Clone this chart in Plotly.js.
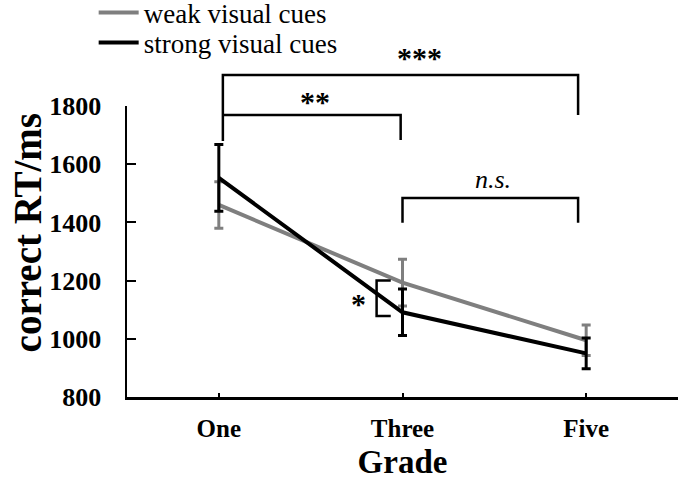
<!DOCTYPE html>
<html>
<head>
<meta charset="utf-8">
<script src="https://cdn.plot.ly/plotly-3.0.1.min.js"></script>
<style>
  html, body { margin: 0; padding: 0; background: #fff; }
  #chart { width: 683px; height: 480px; }
</style>
</head>
<body>
<div id="chart"></div>
<script>
// Grades on the x axis
const grades = ['One', 'Three', 'Five'];

// Mean correct reaction time (ms) and error bar half-lengths
const weakRT = [1460, 1193, 995];
const weakErr = [80, 80, 52];
const strongRT = [1553, 1091, 950];
const strongErr = [115, 80, 53];

const yTicks = [800, 1000, 1200, 1400, 1600, 1800];

const SERIF = '"Liberation Serif", "Times New Roman", serif';
const GRAY = '#7f7f7f';
const BLACK = '#000000';

// category-boundary positions for the outward ticks on the secondary axis
const boundaries = grades.map((_, i) => i - 0.5).concat(grades.length - 0.5);

const traces = [
  {
    x: grades, y: weakRT, name: 'weak visual cues', type: 'scatter', mode: 'lines',
    legend: 'legend',
    line: { color: GRAY, width: 4 },
    error_y: { type: 'data', array: weakErr, visible: true, color: GRAY, thickness: 3, width: 4.5 }
  },
  {
    x: grades, y: strongRT, name: 'strong visual cues', type: 'scatter', mode: 'lines',
    legend: 'legend2',
    line: { color: BLACK, width: 4 },
    error_y: { type: 'data', array: strongErr, visible: true, color: BLACK, thickness: 3, width: 4.5 }
  }
];

const bracketLine = { color: BLACK, width: 2.5 };

function legendAt(yPaper) {
  return {
    x: -0.0605, xanchor: 'left', y: yPaper, yanchor: 'middle',
    font: { family: SERIF, size: 27, color: BLACK },
    itemwidth: 40,
    bgcolor: 'rgba(0,0,0,0)', borderwidth: 0
  };
}

const layout = {
  width: 683, height: 480,
  margin: { l: 127, r: 5, t: 106, b: 83, autoexpand: false },
  paper_bgcolor: '#fff', plot_bgcolor: '#fff',
  showlegend: true,
  legend: legendAt(1.320),
  legend2: legendAt(1.217),
  xaxis: {
    type: 'category', range: [-0.5, 2.5],
    showline: true, linecolor: BLACK, linewidth: 2.5,
    ticks: 'inside', ticklen: 4, tickwidth: 2, tickcolor: BLACK,
    tickfont: { family: SERIF, size: 25, color: BLACK, weight: 'bold' },
    ticklabelstandoff: 7,
    showgrid: false, zeroline: false,
    title: { text: 'Grade', font: { family: SERIF, size: 33, color: BLACK, weight: 'bold' }, standoff: 15 }
  },
  xaxis2: {
    overlaying: 'x', anchor: 'y', side: 'bottom', type: 'linear', range: [-0.5, 2.5],
    tickmode: 'array', tickvals: boundaries, showticklabels: false,
    ticks: 'outside', ticklen: 7, tickwidth: 2, tickcolor: BLACK,
    showline: false, showgrid: false, zeroline: false
  },
  yaxis: {
    range: [800, 1800], tickmode: 'array', tickvals: yTicks,
    showline: true, linecolor: BLACK, linewidth: 2.5,
    ticks: 'inside', ticklen: 9, tickwidth: 2, tickcolor: BLACK,
    tickfont: { family: SERIF, size: 26, color: BLACK, weight: 'bold' },
    ticklabelstandoff: 18,
    showgrid: false, zeroline: false
  },
  shapes: [
    // One vs Five
    { type: 'path', xref: 'x', yref: 'paper', line: bracketLine,
      path: 'M 0.022,0.880 L 0.022,1.1065 L 1.956,1.1065 L 1.956,0.969' },
    // One vs Three
    { type: 'path', xref: 'x', yref: 'y', line: bracketLine,
      path: 'M 0.022,1769 L 0.99,1769 L 0.99,1683' },
    // Three vs Five
    { type: 'path', xref: 'x', yref: 'y', line: bracketLine,
      path: 'M 1,1399 L 1,1484 L 1.956,1484 L 1.956,1399' },
    // weak vs strong at grade Three
    { type: 'path', xref: 'x', yref: 'y', line: bracketLine,
      path: 'M 0.936,1200 L 0.859,1200 L 0.859,1078 L 0.936,1078' }
  ],
  annotations: [
    { text: '***', xref: 'x', yref: 'paper', x: 1.095, y: 1.165, xanchor: 'center', yanchor: 'middle',
      showarrow: false, font: { family: SERIF, size: 30, color: BLACK, weight: 'bold' } },
    { text: '**', xref: 'x', yref: 'paper', x: 0.523, y: 1.017, xanchor: 'center', yanchor: 'middle',
      showarrow: false, font: { family: SERIF, size: 30, color: BLACK, weight: 'bold' } },
    { text: '<i>n.s.</i>', xref: 'x', yref: 'y', x: 1.493, y: 1548, xanchor: 'center', yanchor: 'middle',
      showarrow: false, font: { family: SERIF, size: 26, color: BLACK } },
    { text: '*', xref: 'x', yref: 'y', x: 0.763, y: 1120, xanchor: 'center', yanchor: 'middle',
      showarrow: false, font: { family: SERIF, size: 30, color: BLACK, weight: 'bold' } },
    { text: 'correct RT/ms', xref: 'paper', yref: 'paper', x: -0.18, y: 0.565,
      xanchor: 'center', yanchor: 'middle', textangle: -90, showarrow: false,
      font: { family: SERIF, size: 39, color: BLACK, weight: 'bold' } }
  ]
};

Plotly.newPlot('chart', traces, layout, { displayModeBar: false, responsive: false, staticPlot: true });
</script>
</body>
</html>
